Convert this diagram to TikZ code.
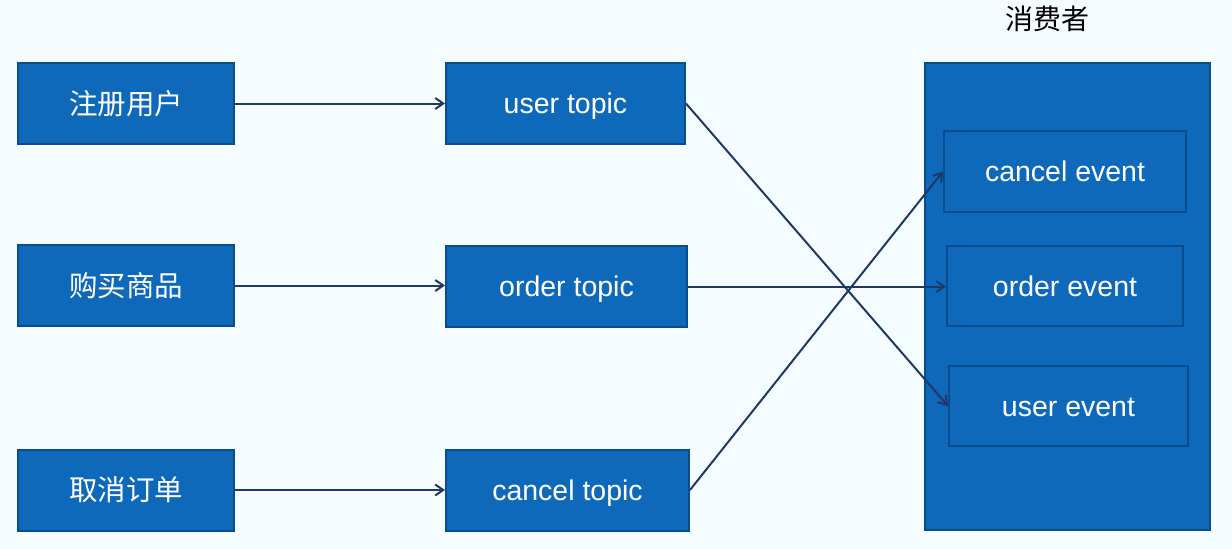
\documentclass[tikz,border=0pt]{standalone}
\usepackage{fontspec}
\setmainfont{Liberation Sans}
\newfontfamily\cjk{Noto Sans CJK SC}
\usetikzlibrary{arrows.meta}
\definecolor{bgblue}{HTML}{F5FCFF}
\definecolor{boxblue}{HTML}{0F69BA}
\definecolor{edgeblue}{HTML}{0B4D8C}
\definecolor{linenavy}{HTML}{1F3864}

\begin{document}
\begin{tikzpicture}[
  x=1pt, y=-1pt,
  font=\fontsize{28.5}{32}\selectfont,
  box/.style={draw=edgeblue, line width=2pt, fill=boxblue, text=white, minimum height=81pt, inner sep=0pt},
  ebox/.style={box, text height=20.5pt, text depth=0pt},
  arr/.style={-{Straight Barb[length=8pt, width=11pt, line width=2pt]}, draw=linenavy, line width=2pt}
]
  \fill[bgblue] (0,0) rectangle (1232,549);
  \useasboundingbox (0,0) rectangle (1232,549);

  % producers
  \node[box, minimum width=216pt] (reg) at (126,103.5) {\cjk 注册用户};
  \node[box, minimum width=216pt] (buy) at (126,285.5) {\cjk 购买商品};
  \node[box, minimum width=216pt] (cnl) at (126,490) {\cjk 取消订单};

  % topics
  \node[ebox, minimum width=239pt] (utopic) at (565.5,103.5) {user topic};
  \node[ebox, minimum width=241pt] (otopic) at (566.5,286.5) {order topic};
  \node[ebox, minimum width=243pt] (ctopic) at (567.5,490) {cancel topic};

  % consumer
  \node[box, minimum width=285pt, minimum height=467pt] (cons) at (1067.5,296.5) {};
  \node[font=\cjk\fontsize{28}{32}\selectfont] (title) at (1047,19) {消费者};
  \node[ebox, minimum width=242pt] (cev) at (1065,171.5) {cancel event};
  \node[ebox, minimum width=236pt, minimum height=80pt] (oev) at (1065,286) {order event};
  \node[ebox, minimum width=239pt, minimum height=80pt] (uev) at (1068.5,406) {user event};

  \draw[arr] (reg.east) -- (utopic.west);
  \draw[arr] (buy.east) -- (otopic.west |- buy.east);
  \draw[arr] (cnl.east) -- (ctopic.west);
  \draw[arr] (utopic.east) -- (uev.west);
  \draw[arr] (otopic.east) -- (oev.west |- otopic.east);
  \draw[arr] (ctopic.east) -- (cev.west);
\end{tikzpicture}
\end{document}
